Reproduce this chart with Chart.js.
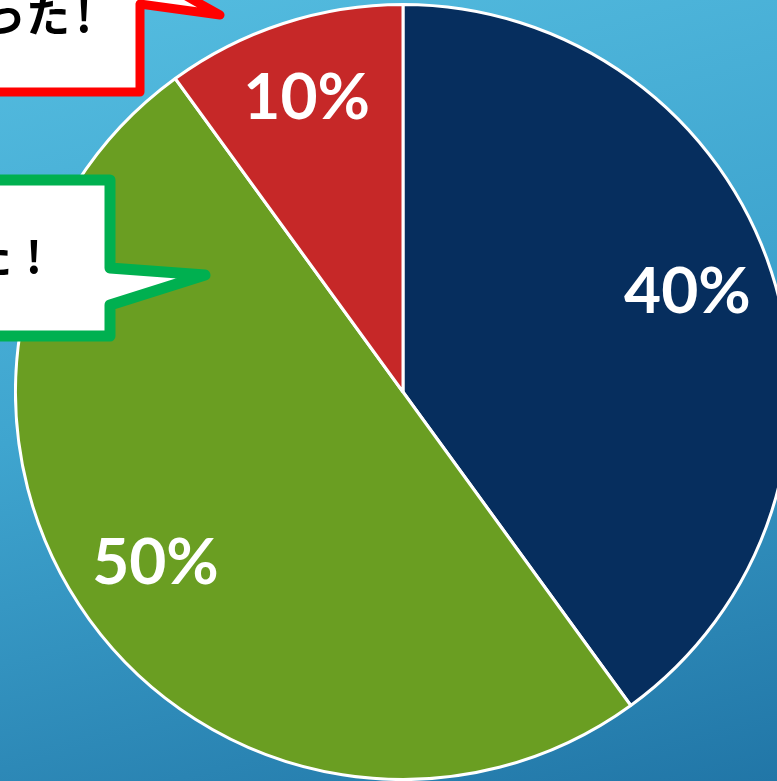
<html>
<head>
<title>Pie</title>
<script src="https://cdn.jsdelivr.net/npm/chart.js@4.4.0/dist/chart.umd.min.js"></script>
<style>
  body { margin: 0; width: 777px; height: 781px; overflow: hidden; position: relative;
         background: linear-gradient(165deg, #55bde0 0%, #3fa5cf 45%, #2176a7 100%); }
  #wrap { position: absolute; left: 14px; top: 3px; width: 778px; height: 778px; }
  #notes { position: absolute; left: 0; top: 0; }
</style>
</head>
<body>
<div id="wrap"><canvas id="pie"></canvas></div>
<svg id="notes" width="777" height="781">
  <polygon points="-30,-60 140,-60 140,-30 220,15 140,4 140,92 -30,92"
           fill="#fff" stroke="#ff0000" stroke-width="9" stroke-linejoin="round"/>
  <text x="70" y="32" text-anchor="end" font-family="Noto Sans CJK JP" font-weight="bold" font-size="44">良かった</text>
  <text x="84" y="32" text-anchor="middle" font-family="Noto Sans CJK JP" font-weight="bold" font-size="44">!</text>
  <polygon points="-30,180 110,180 110,268 205,275 110,305 110,336 -30,336"
           fill="#fff" stroke="#00b050" stroke-width="11" stroke-linejoin="round"/>
  <text x="12" y="273" text-anchor="end" font-family="Noto Sans CJK JP" font-weight="bold" font-size="44">増えた</text>
  <text x="34" y="273" text-anchor="middle" font-family="Noto Sans CJK JP" font-weight="bold" font-size="44">!</text>
</svg>
<script>
var labels = ['A', 'B', 'C'];
var values = [40, 50, 10];
var colors = ['#062e5e', '#6a9e22', '#c62828'];

var pctLabels = {
  id: 'pctLabels',
  afterDatasetsDraw: function(chart) {
    var ctx = chart.ctx;
    var meta = chart.getDatasetMeta(0);
    var total = values.reduce(function(a, b) { return a + b; }, 0);
    ctx.save();
    ctx.fillStyle = '#fff';
    ctx.font = 'bold 64px Lato';
    ctx.textAlign = 'center';
    ctx.textBaseline = 'middle';
    meta.data.forEach(function(arc, i) {
      var mid = (arc.startAngle + arc.endAngle) / 2;
      var r = arc.outerRadius * 0.78;
      ctx.fillText(Math.round(values[i] / total * 100) + '%', arc.x + Math.cos(mid) * r - 3, arc.y + Math.sin(mid) * r - 6);
    });
    ctx.restore();
  }
};

new Chart(document.getElementById('pie'), {
  type: 'pie',
  data: {
    labels: labels,
    datasets: [{ data: values, backgroundColor: colors, borderColor: '#fff', borderWidth: 3, hoverOffset: 0 }]
  },
  options: {
    responsive: true,
    maintainAspectRatio: false,
    animation: false,
    layout: { padding: 0 },
    plugins: { legend: { display: false }, tooltip: { enabled: false } }
  },
  plugins: [pctLabels]
});
</script>
</body>
</html>
